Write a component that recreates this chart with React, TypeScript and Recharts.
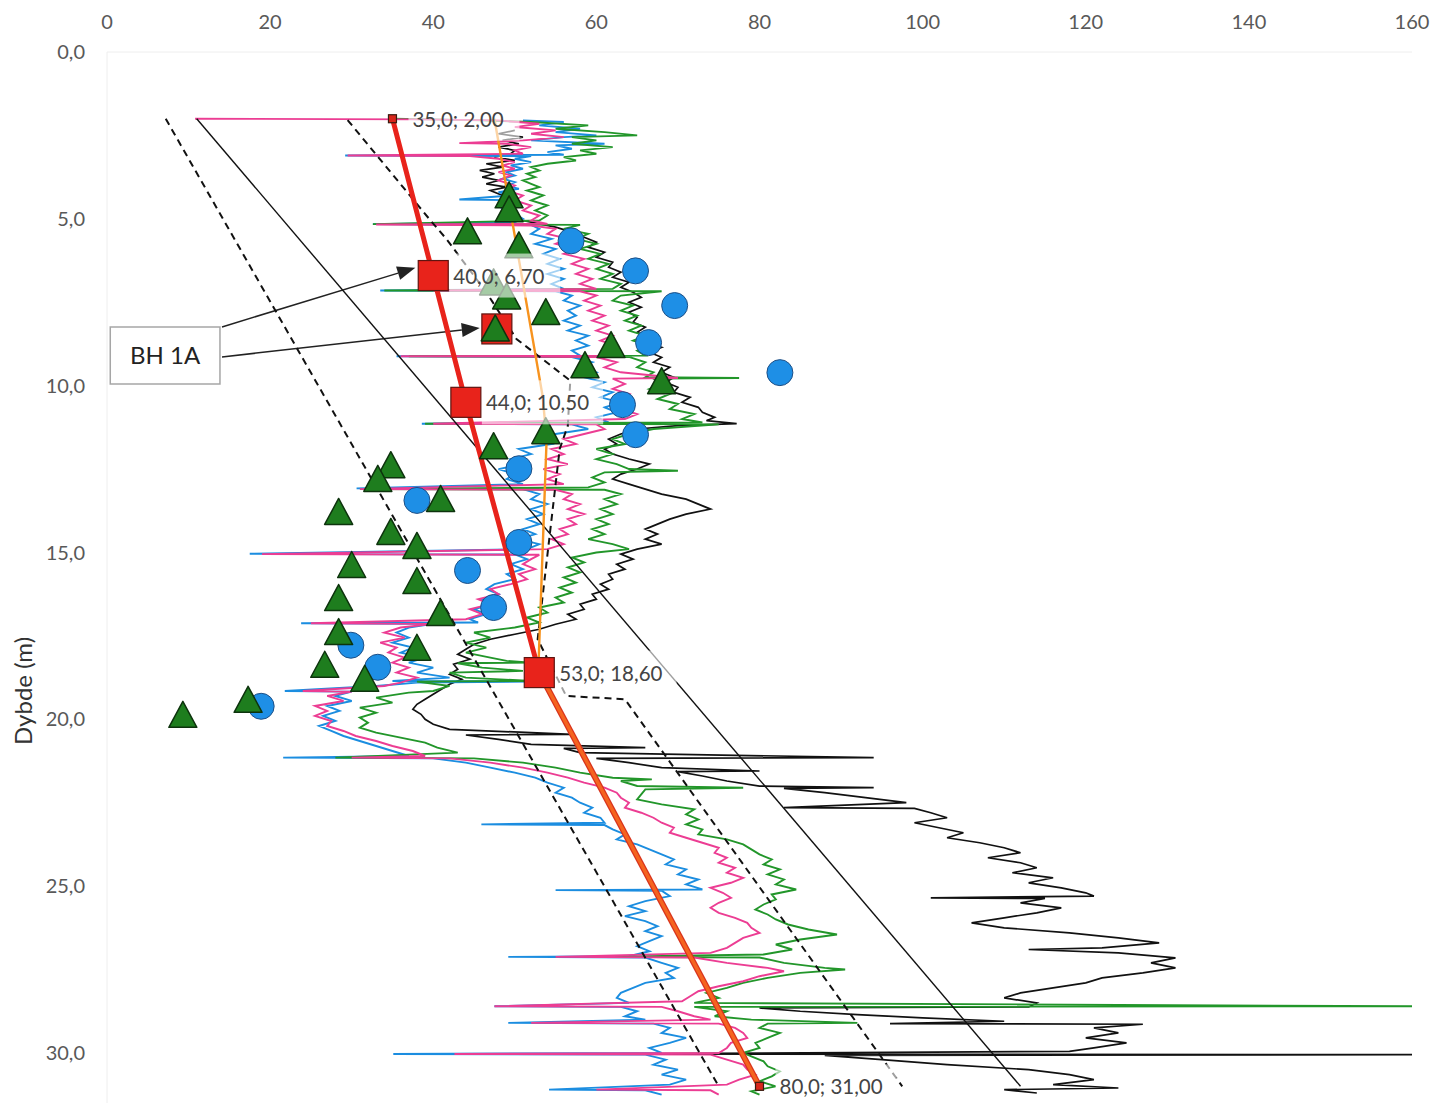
import { ScatterChart, Scatter, XAxis, YAxis, ReferenceArea, ReferenceLine } from 'recharts'

const FONT = 'Lato, "Open Sans", sans-serif'

const xTicks = [0, 20, 40, 60, 80, 100, 120, 140, 160]
const depthTicks = [0, 5, 10, 15, 20, 25, 30]

// sounding traces, [depth m, reading]
const blackTrace: [number, number][] = [
  [2.35, 50], [2.45, 48], [2.55, 51], [2.65, 48.5], [2.75, 50.5], [2.85, 48], [2.95, 50], [3.05, 49.5], [3.15, 47.5],
  [3.25, 50], [3.35, 46.5], [3.45, 48.5], [3.55, 45.7], [3.65, 47.5], [3.75, 46], [3.85, 48], [3.95, 46.5], [4.05, 49],
  [4.15, 47], [4.3, 48.5], [4.45, 49.5], [4.6, 48], [4.75, 49.5], [4.9, 48.5], [5.0, 50], [5.1, 52], [5.25, 55],
  [5.4, 57], [5.55, 58.5], [5.7, 60], [5.85, 59], [6.0, 61], [6.15, 60], [6.3, 62], [6.45, 61.5], [6.6, 63],
  [6.75, 62], [6.9, 64], [7.05, 63], [7.2, 64.5], [7.35, 65.5], [7.5, 64], [7.65, 65.5], [7.8, 64], [7.95, 65],
  [8.1, 64.5], [8.25, 66], [8.4, 65], [8.55, 66.5], [8.7, 66], [8.85, 68], [9.0, 66.5], [9.15, 68], [9.3, 67],
  [9.45, 69], [9.6, 68], [9.75, 69.5], [9.9, 68.5], [10.05, 70], [10.2, 69.5], [10.35, 71.5], [10.5, 70.5],
  [10.65, 72.5], [10.8, 73], [10.95, 74.5], [11.05, 73.5], [11.14, 77.2], [11.2, 70], [11.3, 65], [11.45, 63],
  [11.6, 61.5], [11.75, 62.5], [11.9, 61], [12.05, 62], [12.2, 64], [12.35, 66.5], [12.5, 65], [12.65, 63],
  [12.8, 62], [12.95, 64], [13.1, 66], [13.25, 68], [13.4, 71], [13.55, 72.5], [13.7, 74], [13.85, 71], [14.0, 69],
  [14.15, 67.5], [14.3, 66], [14.45, 67.5], [14.6, 66], [14.75, 68], [14.9, 65], [15.05, 63], [15.2, 64.5],
  [15.35, 62.5], [15.5, 63.5], [15.65, 61.5], [15.8, 62], [15.95, 60.5], [16.1, 61.5], [16.25, 59.5], [16.4, 60],
  [16.55, 58], [16.7, 58.5], [16.85, 56.5], [17.0, 57.5], [17.15, 55], [17.3, 53], [17.45, 50], [17.6, 47],
  [17.75, 45], [17.9, 44], [18.05, 43], [18.2, 44.5], [18.35, 42.5], [18.5, 43], [18.65, 42], [18.8, 43.5],
  [18.95, 42], [19.1, 41], [19.25, 40], [19.4, 39], [19.55, 38], [19.7, 37.5], [19.85, 38.5], [20.0, 39],
  [20.15, 40], [20.3, 42], [20.45, 57], [20.47, 44], [20.6, 48], [20.75, 52], [20.85, 66], [20.87, 56], [21.0, 58],
  [21.15, 94], [21.17, 60], [21.3, 64], [21.45, 68], [21.55, 80], [21.57, 70], [21.7, 73], [21.85, 76], [22.0, 80],
  [22.05, 94], [22.07, 83], [22.2, 88], [22.35, 93], [22.5, 98], [22.65, 83], [22.67, 99], [22.8, 101], [22.95, 103],
  [23.1, 99], [23.25, 102], [23.4, 105], [23.55, 103], [23.7, 107], [23.85, 110], [24.0, 112], [24.15, 108],
  [24.3, 112], [24.45, 114], [24.6, 111], [24.75, 116], [24.9, 113], [25.05, 117], [25.2, 120], [25.3, 121],
  [25.35, 101], [25.37, 115], [25.5, 112], [25.65, 117], [25.8, 114], [25.95, 110], [26.1, 106], [26.25, 110],
  [26.4, 118], [26.55, 124], [26.7, 129], [26.85, 122], [26.9, 113], [27.0, 124], [27.15, 131], [27.3, 128],
  [27.45, 131], [27.6, 127], [27.75, 122], [27.9, 120], [28.05, 116], [28.2, 112], [28.35, 110], [28.5, 114],
  [28.62, 113], [28.65, 80], [28.75, 85], [28.85, 92], [28.95, 100], [29.05, 110], [29.12, 96], [29.14, 127],
  [29.25, 121], [29.4, 124], [29.55, 120], [29.7, 125], [29.85, 121], [29.95, 118], [30.03, 62], [30.05, 160],
  [30.07, 88], [30.2, 95], [30.35, 103], [30.5, 113], [30.65, 118], [30.8, 121], [30.95, 116], [31.05, 124],
  [31.1, 110], [31.2, 114],
]

const blueTrace: [number, number][] = [
  [2.05, 51], [2.1, 56], [2.2, 53], [2.3, 58], [2.4, 55], [2.5, 60], [2.55, 56], [2.65, 52], [2.75, 61], [2.8, 55],
  [2.9, 57], [3.0, 54], [3.08, 56], [3.1, 29.2], [3.12, 52], [3.2, 50], [3.3, 52], [3.4, 49.5], [3.5, 51], [3.6, 49],
  [3.7, 50], [3.8, 48.5], [3.9, 50], [4.0, 49], [4.1, 50.5], [4.2, 48], [4.3, 49.5], [4.42, 43.2], [4.44, 49],
  [4.55, 50], [4.7, 48.5], [4.85, 50], [5.0, 51], [5.1, 50], [5.16, 32.6], [5.18, 52], [5.3, 53], [5.45, 52],
  [5.6, 54.5], [5.75, 52.5], [5.9, 55], [6.05, 53.5], [6.2, 55.5], [6.35, 54], [6.5, 56], [6.65, 54], [6.8, 56],
  [6.95, 54.5], [7.1, 56], [7.15, 33.5], [7.17, 55], [7.3, 57], [7.45, 56], [7.6, 58], [7.75, 56.5], [7.9, 57.5],
  [8.05, 56], [8.2, 58], [8.35, 56.5], [8.5, 59], [8.65, 57.5], [8.8, 59], [8.95, 57], [9.1, 58], [9.12, 35.5],
  [9.14, 57], [9.3, 59.5], [9.45, 58], [9.6, 60], [9.75, 58.5], [9.9, 61], [10.05, 59.5], [10.2, 62], [10.35, 60.5],
  [10.5, 63], [10.65, 61], [10.8, 62.5], [10.95, 60], [11.1, 61.5], [11.14, 38.6], [11.16, 57], [11.3, 59],
  [11.45, 55], [11.6, 53], [11.75, 54.5], [11.9, 50.5], [12.05, 52], [12.2, 49.5], [12.35, 51], [12.5, 48],
  [12.65, 50], [12.8, 49], [12.95, 51], [13.08, 30.6], [13.1, 51], [13.25, 53], [13.4, 52], [13.55, 54], [13.7, 52],
  [13.85, 53.5], [14.0, 51.5], [14.15, 53], [14.3, 51], [14.45, 52.5], [14.6, 50.5], [14.75, 53], [14.9, 51.5],
  [15.04, 17.5], [15.06, 50], [15.2, 51.5], [15.35, 49.5], [15.5, 51], [15.65, 49], [15.8, 50], [15.95, 47.5],
  [16.1, 46.5], [16.25, 48], [16.4, 46], [16.55, 47.5], [16.7, 45], [16.85, 46.5], [17.0, 44.5], [17.1, 45.5],
  [17.12, 23.8], [17.14, 40], [17.25, 37], [17.4, 35.5], [17.55, 37], [17.7, 35], [17.85, 37.5], [18.0, 36],
  [18.15, 39], [18.3, 37], [18.45, 40], [18.6, 38], [18.75, 42], [18.85, 35], [18.87, 51.8], [18.9, 38], [19.0, 33],
  [19.15, 21.8], [19.17, 30], [19.3, 28], [19.45, 30], [19.6, 27], [19.75, 28.5], [19.9, 26.5], [20.05, 28],
  [20.2, 26], [20.35, 27.5], [20.5, 29], [20.65, 31], [20.8, 33], [20.95, 35], [21.1, 37], [21.15, 21.6],
  [21.17, 40], [21.3, 44], [21.45, 47], [21.6, 50], [21.75, 52.5], [21.9, 54], [22.05, 56], [22.2, 55], [22.35, 57],
  [22.5, 58], [22.65, 59.5], [22.8, 58.5], [22.95, 60.5], [23.1, 61], [23.15, 45.9], [23.17, 61], [23.3, 62],
  [23.45, 63.5], [23.6, 62.5], [23.75, 65], [23.9, 66.5], [24.05, 68], [24.2, 69.5], [24.35, 68.5], [24.5, 71],
  [24.65, 70], [24.8, 72.5], [24.95, 71], [25.1, 73], [25.12, 55], [25.14, 68], [25.3, 69], [25.45, 66], [25.6, 64],
  [25.75, 66], [25.9, 63.5], [26.05, 66], [26.2, 67.5], [26.35, 66], [26.5, 68], [26.65, 66.5], [26.8, 65],
  [26.95, 66.5], [27.1, 64], [27.12, 49.2], [27.14, 66], [27.3, 68], [27.45, 70], [27.6, 68.5], [27.75, 69.5],
  [27.9, 66], [28.05, 64.5], [28.2, 63], [28.35, 62.5], [28.5, 64], [28.6, 47.5], [28.62, 63], [28.75, 65],
  [28.9, 63.5], [29.0, 66], [29.1, 49.2], [29.12, 67], [29.25, 69], [29.4, 68], [29.55, 71], [29.7, 69],
  [29.85, 66.5], [30.0, 68], [30.03, 35.1], [30.05, 66], [30.2, 68.5], [30.35, 67], [30.5, 70], [30.65, 68],
  [30.8, 71], [30.95, 69], [31.1, 54.2], [31.12, 66], [31.25, 68],
]

const pinkTrace: [number, number][] = [
  [2.0, 10.8], [2.02, 38], [2.05, 48], [2.15, 53], [2.25, 50], [2.35, 55], [2.45, 52], [2.55, 56], [2.65, 51],
  [2.73, 43.2], [2.75, 49], [2.85, 52], [2.95, 50], [3.05, 51], [3.1, 29.5], [3.12, 44.5], [3.2, 48], [3.3, 50],
  [3.4, 48.5], [3.5, 50], [3.6, 48], [3.7, 49.5], [3.85, 48], [4.0, 50], [4.15, 49], [4.3, 51], [4.45, 50], [4.6, 52],
  [4.75, 51], [4.9, 53], [5.05, 52], [5.15, 54], [5.17, 33], [5.2, 52], [5.3, 55], [5.45, 54], [5.6, 56.5],
  [5.75, 55], [5.9, 57.5], [6.05, 56], [6.2, 58.5], [6.35, 57], [6.5, 59], [6.65, 57.5], [6.8, 59.5], [6.95, 58],
  [7.1, 60], [7.15, 40], [7.17, 58], [7.3, 60], [7.45, 58.5], [7.6, 60.5], [7.75, 59], [7.9, 61], [8.05, 59.5],
  [8.2, 61.5], [8.35, 60], [8.5, 62], [8.65, 60.5], [8.8, 62.5], [8.95, 61], [9.1, 62], [9.12, 36], [9.14, 60],
  [9.3, 62.5], [9.45, 61], [9.6, 63], [9.77, 70], [9.79, 62], [9.95, 63.5], [10.1, 62], [10.25, 64], [10.4, 62.5],
  [10.55, 64.5], [10.7, 63], [10.85, 65], [11.0, 63.5], [11.14, 40], [11.16, 60], [11.3, 61], [11.45, 58.5],
  [11.6, 56], [11.75, 57.5], [11.9, 54.5], [12.05, 56], [12.2, 54], [12.35, 56.5], [12.5, 53.5], [12.65, 55.5],
  [12.8, 54], [12.95, 56], [13.1, 31], [13.12, 55], [13.25, 57], [13.4, 56], [13.55, 58], [13.7, 56.5], [13.85, 58.5],
  [14.0, 56.5], [14.15, 57.5], [14.3, 55.5], [14.45, 56.5], [14.6, 54.5], [14.75, 56], [14.9, 54], [15.05, 19],
  [15.07, 53], [15.2, 52], [15.35, 51], [15.5, 52.5], [15.65, 50.5], [15.8, 51.5], [15.95, 49.5], [16.1, 47],
  [16.25, 48], [16.4, 45.5], [16.55, 47], [16.7, 44.5], [16.85, 46], [17.0, 44], [17.12, 25], [17.14, 40],
  [17.25, 36], [17.4, 34], [17.55, 36.5], [17.7, 33.5], [17.85, 35.5], [18.0, 34.5], [18.15, 36.5], [18.3, 35],
  [18.45, 37], [18.6, 35.5], [18.75, 38], [18.9, 36], [19.0, 34], [19.15, 24], [19.17, 30], [19.3, 27], [19.45, 29],
  [19.6, 25.5], [19.75, 27], [19.9, 25.5], [20.05, 27.5], [20.2, 27], [20.35, 29], [20.5, 30.5], [20.65, 33],
  [20.8, 35], [20.95, 37.5], [21.1, 39], [21.15, 30], [21.17, 42], [21.3, 47], [21.45, 51], [21.6, 54], [21.75, 56.5],
  [21.9, 58.5], [22.05, 61], [22.2, 62.5], [22.35, 63], [22.5, 64], [22.65, 63.5], [22.8, 65.5], [22.95, 67],
  [23.1, 68], [23.25, 69.5], [23.4, 69], [23.55, 71], [23.7, 73], [23.85, 75], [24.0, 74.5], [24.15, 76], [24.3, 75],
  [24.45, 77], [24.6, 76], [24.75, 78], [24.9, 76.5], [25.05, 74], [25.2, 75.5], [25.35, 76.5], [25.5, 75],
  [25.65, 74], [25.8, 75], [25.95, 77], [26.1, 78.5], [26.25, 79], [26.4, 80], [26.55, 78], [26.7, 77], [26.85, 76],
  [27.0, 74], [27.12, 55], [27.14, 72], [27.3, 76], [27.45, 81], [27.55, 83], [27.7, 80], [27.85, 78], [28.0, 75],
  [28.15, 72.5], [28.3, 71.5], [28.45, 70.5], [28.6, 47.5], [28.62, 68], [28.75, 70], [28.9, 72], [29.0, 74],
  [29.1, 52], [29.12, 75], [29.25, 77], [29.4, 78], [29.55, 78.5], [29.7, 76.5], [29.85, 76], [30.0, 75],
  [30.03, 42.6], [30.05, 74], [30.2, 76], [30.35, 78], [30.5, 78.5], [30.65, 79.5], [30.8, 77.5], [30.95, 76],
  [31.1, 60], [31.12, 74], [31.25, 75],
]

const greenTrace: [number, number][] = [
  [2.0, 35], [2.02, 40], [2.05, 46], [2.1, 52], [2.2, 59], [2.3, 55], [2.4, 61], [2.5, 65], [2.55, 57], [2.65, 60],
  [2.75, 57], [2.85, 62], [2.95, 58], [3.05, 60], [3.15, 56], [3.25, 57.5], [3.35, 54], [3.45, 52], [3.55, 53],
  [3.65, 51.5], [3.75, 52.5], [3.85, 51], [3.95, 52], [4.05, 53], [4.15, 51.5], [4.3, 53.5], [4.45, 52], [4.6, 54],
  [4.75, 52.5], [4.9, 54], [5.05, 53], [5.16, 32.6], [5.18, 58], [5.3, 56], [5.45, 59], [5.6, 57.5], [5.75, 60],
  [5.9, 58], [6.05, 60.5], [6.2, 59], [6.35, 61.5], [6.5, 60], [6.65, 62], [6.8, 60.5], [6.95, 63], [7.1, 62],
  [7.15, 34], [7.17, 68], [7.3, 63], [7.45, 62], [7.6, 64.5], [7.75, 63], [7.9, 65], [8.05, 63.5], [8.2, 65.5],
  [8.35, 64], [8.5, 66], [8.65, 64.5], [8.8, 66.5], [8.95, 65], [9.1, 66], [9.12, 37], [9.14, 64], [9.3, 66],
  [9.45, 65], [9.6, 67], [9.75, 66], [9.77, 77.5], [9.79, 67], [9.95, 68], [10.1, 66.5], [10.25, 69], [10.4, 67.5],
  [10.55, 70], [10.7, 69], [10.85, 72], [11.0, 70.5], [11.1, 73], [11.14, 39], [11.16, 75], [11.3, 67], [11.45, 64],
  [11.6, 62], [11.75, 63.5], [11.9, 60], [12.05, 62], [12.2, 60], [12.35, 62.5], [12.5, 64], [12.55, 70], [12.6, 61],
  [12.75, 59.5], [12.9, 61], [13.05, 59], [13.1, 32], [13.12, 61], [13.25, 63], [13.4, 61], [13.55, 62.5],
  [13.7, 60.5], [13.85, 62], [14.0, 60], [14.15, 61.5], [14.3, 59.5], [14.45, 61], [14.6, 59], [14.75, 62],
  [14.9, 64], [15.0, 60], [15.15, 57], [15.3, 58.5], [15.45, 56.5], [15.6, 58], [15.75, 56], [15.9, 57.5],
  [16.05, 55.5], [16.2, 57], [16.35, 55], [16.5, 56], [16.65, 53], [16.8, 54], [16.95, 51.5], [17.1, 53],
  [17.25, 50], [17.4, 45], [17.55, 47], [17.7, 44], [17.85, 46.5], [18.0, 44], [18.15, 47], [18.25, 49], [18.3, 52],
  [18.32, 43], [18.45, 46], [18.55, 51], [18.6, 42], [18.75, 44], [18.85, 52], [18.87, 38], [19.0, 42], [19.15, 40],
  [19.2, 37], [19.35, 33], [19.5, 35], [19.65, 31], [19.8, 33], [19.95, 31], [20.1, 32], [20.25, 31], [20.4, 33],
  [20.55, 36], [20.7, 39], [20.85, 40.5], [21.0, 43], [21.15, 28], [21.17, 45], [21.3, 51], [21.45, 55], [21.6, 58],
  [21.75, 62], [21.8, 66.8], [21.85, 63], [22.0, 65], [22.05, 78], [22.1, 66], [22.25, 65.5], [22.4, 65], [22.55, 68],
  [22.7, 72], [22.85, 71], [23.0, 72.5], [23.15, 71], [23.3, 73], [23.45, 72.5], [23.6, 76], [23.75, 78], [23.9, 79],
  [24.05, 80], [24.2, 81.5], [24.35, 80.5], [24.5, 82.5], [24.65, 81], [24.8, 83], [24.95, 82], [25.1, 84.5],
  [25.25, 81.5], [25.4, 82], [25.55, 80.5], [25.7, 79.5], [25.85, 81], [26.0, 82], [26.15, 83.5], [26.3, 86],
  [26.45, 89.5], [26.6, 85], [26.75, 82], [26.9, 84], [27.05, 80.5], [27.12, 60], [27.14, 80], [27.3, 83],
  [27.45, 88], [27.5, 90.5], [27.6, 85], [27.75, 81], [27.9, 78], [28.05, 76], [28.2, 73.5], [28.35, 75], [28.5, 72],
  [28.6, 160], [28.62, 72], [28.75, 76], [28.9, 74.5], [29.0, 79], [29.1, 92], [29.12, 81], [29.25, 80],
  [29.4, 82.5], [29.55, 81], [29.7, 79.5], [29.85, 80], [30.0, 78], [30.1, 79], [30.25, 80.5], [30.4, 81],
  [30.55, 82.5], [30.7, 81.5], [30.85, 80], [31.0, 82], [31.15, 79], [31.25, 80],
]

// interpretation lines, [depth, value]
const lowerBound: [number, number][] = [[2.0, 7.2], [31.0, 75]]
const upperBound: [number, number][] = [
  [2.04, 29.5], [5.03, 39.6], [5.6, 41.6], [7.2, 46.5], [8.6, 50.2], [9.85, 56.8], [11.2, 56.5], [11.9, 55.5],
  [17.6, 52.8], [19.3, 56.3], [19.4, 63.5], [31.0, 97.5],
]
const trendLine: [number, number][] = [[2.0, 11], [31.0, 112]]
const orangeGuide: [number, number][] = [[2.0, 47.5], [10.3, 53.4], [11.6, 53.9], [18.4, 52.9]]

// breakpoints of the chosen profile, [depth, value]
const profileUpper: [number, number][] = [[2.0, 35], [6.7, 40], [10.5, 44], [18.6, 53]]
const profileLower: [number, number][] = [[18.6, 53], [31.0, 80]]
const labelledPoints: [number, number][] = [[2.0, 35], [6.7, 40], [10.5, 44], [18.6, 53], [31.0, 80]]
const endPoints: [number, number][] = [[2.0, 35], [31.0, 80]]
const bigSquares: [number, number][] = [[6.7, 40], [8.3, 47.8], [10.5, 44], [18.6, 53]]

// lab results, [depth, value]
const circleResults: [number, number][] = [
  [5.66, 56.9], [6.56, 64.8], [7.6, 69.6], [8.71, 66.4], [9.61, 82.5], [10.57, 63.2], [11.47, 64.8], [12.49, 50.5],
  [13.44, 38.0], [14.7, 50.5], [15.54, 44.2], [16.65, 47.4], [17.78, 29.9], [18.44, 33.2], [19.61, 18.9],
]
const triangleResults: [number, number][] = [
  [4.31, 49.3], [4.73, 49.3], [5.39, 44.2], [5.81, 50.5], [6.92, 47.4], [7.34, 49.0], [7.81, 53.8], [8.3, 47.6],
  [8.8, 61.8], [9.4, 58.6], [9.88, 68.0], [11.38, 53.8], [11.83, 47.4], [12.4, 34.8], [12.81, 33.2], [13.41, 40.9],
  [13.8, 28.4], [14.4, 34.8], [14.82, 38.0], [15.39, 30.0], [15.87, 38.0], [16.38, 28.4], [16.83, 40.9],
  [17.4, 28.4], [17.87, 38.0], [18.38, 26.7], [18.8, 31.6], [19.43, 17.3], [19.88, 9.3],
]

const toPts = (rows: [number, number][]) => rows.map(([d, v]) => ({ x: v, y: d }))
const comma = (v: number, n: number) => v.toFixed(n).replace('.', ',')

const NoDot = () => <g />

const CircleMark = (p: any) => (
  <circle cx={p.cx} cy={p.cy} r={13} fill="#1e8fe6" stroke="#1d4f86" strokeWidth={1} />
)

const TriangleMark = (p: any) => (
  <polygon
    points={`${p.cx},${p.cy - 14} ${p.cx - 14},${p.cy + 12} ${p.cx + 14},${p.cy + 12}`}
    fill="#1e7d1e"
    stroke="#0d330d"
    strokeWidth={1.5}
    strokeLinejoin="round"
  />
)

const BigSquare = (p: any) => (
  <rect x={p.cx - 15} y={p.cy - 15} width={30} height={30} fill="#e8231b" stroke="#5e1410" strokeWidth={1.2} />
)

const SmallSquare = (p: any) => (
  <rect x={p.cx - 4} y={p.cy - 4} width={8} height={8} fill="#d9261c" stroke="#3a1a10" strokeWidth={1.2} />
)

const PointLabel = (p: any) => {
  const text = `${comma(p.payload.x, 1)}; ${comma(p.payload.y, 2)}`
  const x = p.cx + 20
  const w = text.length * 10.3
  return (
    <g>
      <rect x={x - 4} y={p.cy - 22} width={w + 8} height={44} fill="#fff" fillOpacity={0.6} />
      <text x={x} y={p.cy} dominantBaseline="central" fontFamily={FONT} fontSize={20.5} fill="#444">
        {text}
      </text>
    </g>
  )
}

const Arrow = (p: any) => {
  const { x1, y1, x2, y2 } = p
  const a = Math.atan2(y2 - y1, x2 - x1)
  const len = 18
  const half = 7
  const bx = x2 - len * Math.cos(a)
  const by = y2 - len * Math.sin(a)
  const nx = -Math.sin(a) * half
  const ny = Math.cos(a) * half
  return (
    <g>
      <line x1={x1} y1={y1} x2={bx} y2={by} stroke="#222" strokeWidth={1.5} />
      <polygon points={`${x2},${y2} ${bx + nx},${by + ny} ${bx - nx},${by - ny}`} fill="#222" />
    </g>
  )
}

export default function App() {
  return (
    <div style={{ position: 'absolute', left: 0, top: 0, width: 1434, height: 1103, background: '#fff' }}>
      <ScatterChart width={1434} height={1103} margin={{ top: 22, right: 22, bottom: 0, left: 0 }}>
        <XAxis
          type="number"
          dataKey="x"
          orientation="top"
          domain={[0, 160]}
          ticks={xTicks}
          allowDataOverflow
          height={30}
          tickLine={false}
          tickSize={0}
          tickMargin={23}
          axisLine={{ stroke: '#eeeeee' }}
          tick={{ fill: '#595959', fontSize: 20, fontFamily: FONT }}
        />
        <YAxis
          type="number"
          dataKey="y"
          reversed
          domain={[0, 31.5]}
          ticks={depthTicks}
          allowDataOverflow
          width={107}
          tickLine={false}
          tickSize={0}
          tickMargin={22}
          axisLine={{ stroke: '#eeeeee' }}
          tickFormatter={(v: number) => comma(v, 1)}
          tick={{ fill: '#595959', fontSize: 20, fontFamily: FONT }}
        />

        <Scatter data={toPts(blackTrace)} shape={NoDot} line={{ stroke: '#111', strokeWidth: 1.7 }} isAnimationActive={false} />
        <Scatter data={toPts(blueTrace)} shape={NoDot} line={{ stroke: '#1b8de0', strokeWidth: 1.9 }} isAnimationActive={false} />
        <Scatter data={toPts(greenTrace)} shape={NoDot} line={{ stroke: '#22962a', strokeWidth: 1.9 }} isAnimationActive={false} />
        <Scatter data={toPts(pinkTrace)} shape={NoDot} line={{ stroke: '#ec3d93', strokeWidth: 1.9 }} isAnimationActive={false} />

        <Scatter data={toPts(lowerBound)} shape={NoDot} line={{ stroke: '#111', strokeWidth: 2, strokeDasharray: '7 5' }} isAnimationActive={false} />
        <Scatter data={toPts(upperBound)} shape={NoDot} line={{ stroke: '#111', strokeWidth: 2, strokeDasharray: '7 5' }} isAnimationActive={false} />
        <Scatter data={toPts(trendLine)} shape={NoDot} line={{ stroke: '#111', strokeWidth: 1.4 }} isAnimationActive={false} />
        <Scatter data={toPts(orangeGuide)} shape={NoDot} line={{ stroke: '#f7931e', strokeWidth: 2.4 }} isAnimationActive={false} />

        <Scatter data={toPts(profileUpper)} shape={NoDot} line={{ stroke: '#e8231b', strokeWidth: 5 }} isAnimationActive={false} />
        <Scatter data={toPts(profileLower)} shape={NoDot} line={{ stroke: '#d8321c', strokeWidth: 6 }} isAnimationActive={false} />
        <Scatter data={toPts(profileLower)} shape={NoDot} line={{ stroke: '#f5641f', strokeWidth: 3.5 }} isAnimationActive={false} />

        <Scatter data={toPts(bigSquares)} shape={BigSquare} isAnimationActive={false} />
        <Scatter data={toPts(endPoints)} shape={SmallSquare} isAnimationActive={false} />
        <Scatter data={toPts(circleResults)} shape={CircleMark} isAnimationActive={false} />
        <Scatter data={toPts(triangleResults)} shape={TriangleMark} isAnimationActive={false} />
        <Scatter data={toPts(labelledPoints)} shape={PointLabel} isAnimationActive={false} />

        <ReferenceArea
          x1={0.4}
          x2={13.85}
          y1={8.24}
          y2={9.95}
          fill="#fff"
          fillOpacity={1}
          stroke="#a6a6a6"
          strokeWidth={1.5}
          label={{ value: 'BH 1A', position: 'center', fill: '#222', fontSize: 24, fontFamily: FONT }}
        />
        <ReferenceLine segment={[{ x: 14.1, y: 8.24 }, { x: 37.8, y: 6.47 }]} shape={Arrow} ifOverflow="visible" />
        <ReferenceLine segment={[{ x: 14.1, y: 9.14 }, { x: 45.7, y: 8.27 }]} shape={Arrow} ifOverflow="visible" />
      </ScatterChart>
      <div
        style={{
          position: 'absolute',
          left: 22,
          top: 691,
          transform: 'translate(-50%, -50%) rotate(-90deg)',
          whiteSpace: 'nowrap',
          fontFamily: FONT,
          fontSize: 24,
          color: '#333',
        }}
      >
        Dybde (m)
      </div>
    </div>
  )
}
